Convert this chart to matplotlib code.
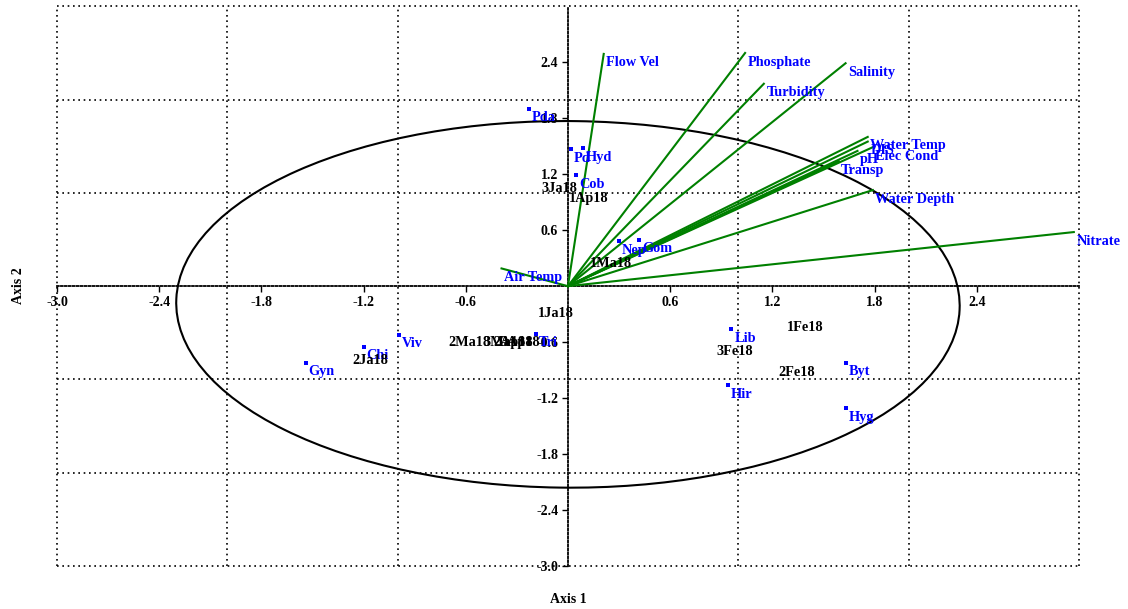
import numpy as np
import matplotlib
matplotlib.use("Agg")
import matplotlib.pyplot as plt
from matplotlib.patches import Ellipse

# environmental vectors (arrow tips)
env_names = ["Flow Vel", "Phosphate", "Turbidity", "Salinity", "Water Temp", "DIS",
             "Elec Cond", "pH", "Transp", "Water Depth", "Nitrate", "Air Temp"]
env_x = [0.21, 1.04, 1.15, 1.63, 1.76, 1.76, 1.79, 1.70, 1.59, 1.79, 2.97, -0.39]
env_y = [2.49, 2.50, 2.17, 2.39, 1.60, 1.55, 1.49, 1.45, 1.34, 1.03, 0.58, 0.19]

# taxa scores
taxa = ["Pda", "Pd", "Hyd", "Cob", "Nep", "Gom", "Tri", "Viv", "Chi", "Gyn",
        "Lib", "Hir", "Byt", "Hyg"]
taxa_x = [-0.23, 0.02, 0.09, 0.05, 0.30, 0.42, -0.19, -0.99, -1.20, -1.54,
          0.96, 0.94, 1.63, 1.63]
taxa_y = [1.90, 1.47, 1.48, 1.19, 0.48, 0.50, -0.51, -0.52, -0.65, -0.82,
          -0.46, -1.06, -0.82, -1.31]

# sample scores
samples = ["3Ja18", "1Ap18", "1Ma18", "1Ja18", "2Ma18", "3Ma18", "2Ap18", "3Ap18",
           "2Ja18", "1Fe18", "3Fe18", "2Fe18"]
samp_x = [-0.05, 0.12, 0.25, -0.07, -0.58, -0.37, -0.32, -0.28, -1.16, 1.39, 0.98, 1.34]
samp_y = [1.05, 0.94, 0.24, -0.29, -0.60, -0.60, -0.60, -0.60, -0.80, -0.44, -0.70, -0.93]

serif = "Liberation Serif"
fig = plt.figure(figsize=(11.28, 6.09), dpi=100)
ax = fig.add_axes([0.0505, 0.0706, 0.906, 0.919])
ax.set_xlim(-3, 3)
ax.set_ylim(-3, 3)

dots = (0, (1, 2.2))
# dotted grid / frame at integer positions
for v in range(-3, 4):
    if v == 0:
        continue
    ax.axvline(v, color="black", lw=1.2, ls=dots, clip_on=False, zorder=1)
    ax.axhline(v, color="black", lw=1.2, ls=dots, clip_on=False, zorder=1)

# axes through the origin
for s in ["top", "right"]:
    ax.spines[s].set_visible(False)
ax.spines["left"].set_position("zero")
ax.spines["bottom"].set_position("zero")
for s in ["left", "bottom"]:
    ax.spines[s].set_linestyle((0, (1, 1.2)))
    ax.spines[s].set_linewidth(1.3)

ticks = np.round(np.arange(-3.0, 3.01, 0.6), 1)
xt = [t for t in ticks if abs(t) > 1e-9 and t < 2.99]
yt = [t for t in ticks if abs(t) > 1e-9 and t < 2.99]
ax.set_xticks(xt)
ax.set_yticks(yt)
ax.set_xticklabels([f"{t:.1f}" for t in xt])
ax.set_yticklabels([f"{t:.1f}" for t in yt])
ax.tick_params(direction="out", length=4, width=1, pad=3)
for lab in ax.get_xticklabels() + ax.get_yticklabels():
    lab.set_fontfamily(serif)
    lab.set_fontweight("bold")
    lab.set_fontsize(10)

# ellipse
ax.add_patch(Ellipse((0.0, -0.195), 4.6, 3.93, angle=-1.5, fill=False,
                     edgecolor="black", lw=1.5, zorder=2))

# environmental vectors
for name, x, y in zip(env_names, env_x, env_y):
    ax.plot([0, x], [0, y], color="#008000", lw=1.5, zorder=3)
    ax.annotate(name, (x, y), xytext=(1.8, -6.5), textcoords="offset points",
                ha="left", va="center", color="#0000ff", fontsize=10.3,
                fontfamily=serif, fontweight="bold", annotation_clip=False, zorder=5)

# taxa
ax.scatter(taxa_x, taxa_y, s=6, marker="s", color="#0000ff", linewidths=0, zorder=4)
for name, x, y in zip(taxa, taxa_x, taxa_y):
    ax.annotate(name, (x, y), xytext=(2, -6.5), textcoords="offset points",
                ha="left", va="center", color="#0000ff", fontsize=10.3,
                fontfamily=serif, fontweight="bold", zorder=5)

# samples
for name, x, y in zip(samples, samp_x, samp_y):
    ax.text(x, y, name, ha="center", va="center", color="black", fontsize=10.3,
            fontfamily=serif, fontweight="bold", zorder=5)

fig.text(0.504, 0.015, "Axis 1", ha="center", va="center", fontsize=10,
         fontfamily=serif, fontweight="bold")
fig.text(0.016, 0.531, "Axis 2", ha="center", va="center", rotation=90,
         fontsize=10, fontfamily=serif, fontweight="bold")

fig.savefig("out.png", dpi=100)
